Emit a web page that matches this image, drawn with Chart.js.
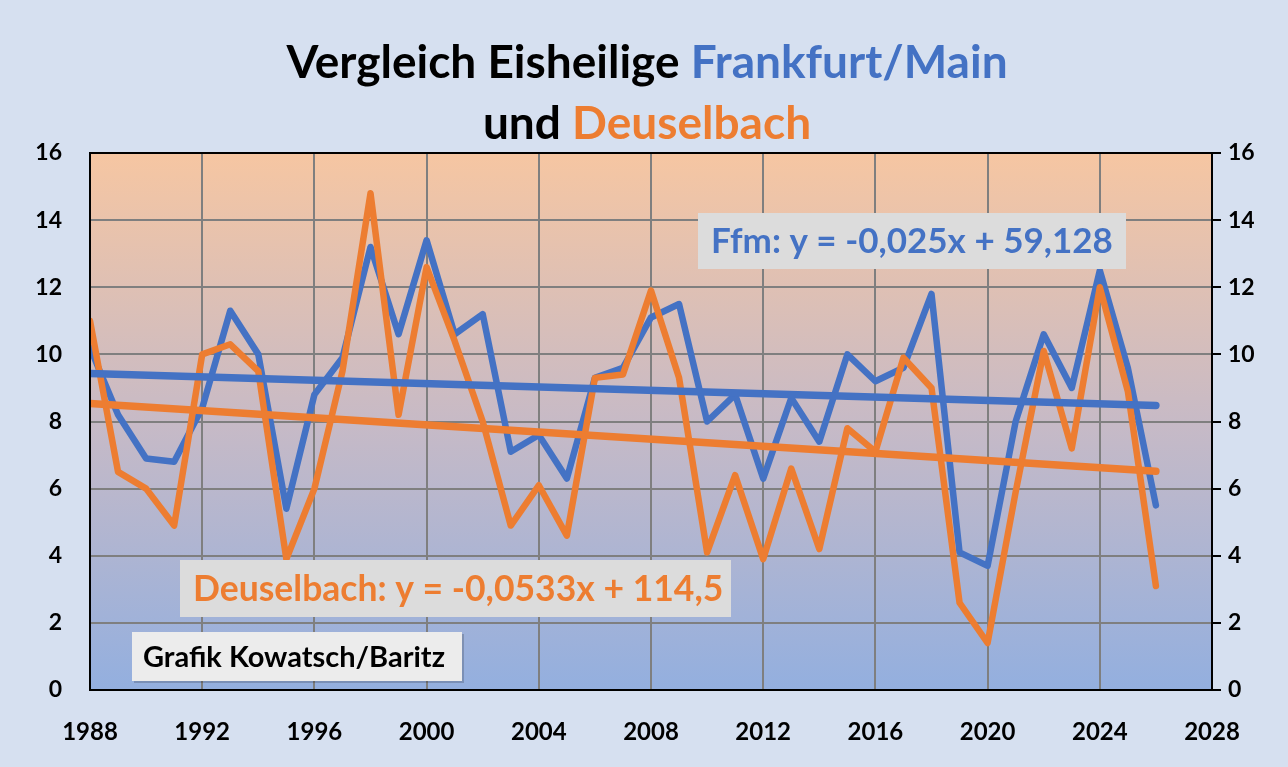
<!DOCTYPE html>
<html>
<head>
<meta charset="utf-8">
<script src="https://cdn.jsdelivr.net/npm/chart.js@4"></script>
<style>
  html, body { margin: 0; padding: 0; background: #d6e0f0; }
  #wrap { width: 1288px; height: 767px; }
</style>
</head>
<body>
<div id="wrap"><canvas id="myChart" width="1288" height="767"></canvas></div>
<script>
const years = [1988, 1989, 1990, 1991, 1992, 1993, 1994, 1995, 1996, 1997,
               1998, 1999, 2000, 2001, 2002, 2003, 2004, 2005, 2006, 2007,
               2008, 2009, 2010, 2011, 2012, 2013, 2014, 2015, 2016, 2017,
               2018, 2019, 2020, 2021, 2022, 2023, 2024, 2025, 2026]
const frankfurt = [10.2, 8.2, 6.9, 6.8, 8.4, 11.3, 10.0, 5.4, 8.8, 9.9,
                   13.2, 10.6, 13.4, 10.6, 11.2, 7.1, 7.6, 6.3, 9.3, 9.6,
                   11.1, 11.5, 8.0, 8.8, 6.3, 8.7, 7.4, 10.0, 9.2, 9.6,
                   11.8, 4.1, 3.7, 8.0, 10.6, 9.0, 12.5, 9.6, 5.5]
const deuselbach = [11.0, 6.5, 6.0, 4.9, 10.0, 10.3, 9.5, 3.9, 6.0, 9.5,
                    14.8, 8.2, 12.6, 10.4, 8.0, 4.9, 6.1, 4.6, 9.3, 9.4,
                    11.9, 9.3, 4.1, 6.4, 3.9, 6.6, 4.2, 7.8, 7.1, 9.9,
                    9.0, 2.6, 1.4, 5.9, 10.1, 7.2, 12.0, 8.9, 3.1]
const trendYears = [1988, 2026]
const frankfurtTrend = [9.43, 8.48]
const deuselbachTrend = [8.54, 6.52]
const xTicks = [1988, 1992, 1996, 2000, 2004, 2008, 2012, 2016, 2020, 2024, 2028]
const yTicks = [0, 2, 4, 6, 8, 10, 12, 14, 16]

const BLUE = '#4472c4'
const ORANGE = '#ed7d31'
const FONT = 'Lato, "Open Sans", sans-serif'

function pts(xs, ys) {
    return xs.map((x, i) => ({ x: x, y: ys[i] }))
}

const decorPlugin = {
    id: 'decor',
    beforeDraw(chart) {
        const ctx = chart.ctx
        const a = chart.chartArea
        ctx.save()
        ctx.fillStyle = '#d6e0f0'
        ctx.fillRect(0, 0, chart.width, chart.height)
        const g = ctx.createLinearGradient(0, a.top, 0, a.bottom)
        g.addColorStop(0, '#f6c6a2')
        g.addColorStop(0.5, '#c7bac6')
        g.addColorStop(1, '#93afdf')
        ctx.fillStyle = g
        ctx.fillRect(a.left, a.top, a.right - a.left, a.bottom - a.top)
        ctx.restore()
    },
    afterDatasetsDraw(chart) {
        const ctx = chart.ctx
        const a = chart.chartArea
        ctx.save()
        // plot border
        ctx.strokeStyle = '#000'
        ctx.lineWidth = 2
        ctx.strokeRect(a.left, a.top, a.right - a.left, a.bottom - a.top)

        // equation boxes
        const box = (x, y, w, h, text, color, size, shadow) => {
            if (shadow) {
                ctx.fillStyle = 'rgba(0,0,0,0.18)'
                ctx.fillRect(x + 2, y + 2, w, h)
            }
            ctx.fillStyle = shadow ? '#ececec' : '#dcdcdc'
            ctx.fillRect(x, y, w, h)
            ctx.fillStyle = color
            ctx.font = 'bold ' + size + 'px ' + FONT
            ctx.textBaseline = 'middle'
            ctx.textAlign = 'left'
            ctx.fillText(text, x + (shadow ? 11 : 13), y + h / 2 + 1)
        }
        box(698, 213, 428, 56, 'Ffm: y = -0,025x + 59,128', BLUE, 35, false)
        box(180, 560, 551, 57, 'Deuselbach: y = -0,0533x + 114,5', ORANGE, 35.5, false)
        box(132, 632, 330, 49, 'Grafik Kowatsch/Baritz', '#000', 29, true)

        // two-colour title
        const line = (parts, cy) => {
            ctx.font = 'bold 46px ' + FONT
            ctx.textBaseline = 'middle'
            ctx.textAlign = 'left'
            let total = 0
            parts.forEach(p => total += ctx.measureText(p[0]).width)
            let x = 647 - total / 2
            parts.forEach(p => {
                ctx.fillStyle = p[1]
                ctx.fillText(p[0], x, cy)
                x += ctx.measureText(p[0]).width
            })
        }
        line([['Vergleich Eisheilige ', '#000'], ['Frankfurt/Main', BLUE]], 63)
        line([['und ', '#000'], ['Deuselbach', ORANGE]], 124)
        ctx.restore()
    }
}

new Chart(document.getElementById('myChart'), {
    type: 'line',
    data: {
        datasets: [
            {
                label: 'Frankfurt/Main',
                data: pts(years, frankfurt),
                borderColor: BLUE,
                borderWidth: 6.5,
                pointRadius: 0,
                borderJoinStyle: 'round',
                borderCapStyle: 'round',
                order: 4
            },
            {
                label: 'Deuselbach',
                data: pts(years, deuselbach),
                borderColor: ORANGE,
                borderWidth: 6.5,
                pointRadius: 0,
                borderJoinStyle: 'round',
                borderCapStyle: 'round',
                order: 3
            },
            {
                label: 'Trend Ffm',
                data: pts(trendYears, frankfurtTrend),
                borderColor: BLUE,
                borderWidth: 7.5,
                pointRadius: 0,
                borderCapStyle: 'round',
                order: 2
            },
            {
                label: 'Trend Deuselbach',
                data: pts(trendYears, deuselbachTrend),
                borderColor: ORANGE,
                borderWidth: 7.5,
                pointRadius: 0,
                borderCapStyle: 'round',
                order: 1
            }
        ]
    },
    options: {
        responsive: false,
        animation: false,
        layout: { padding: { top: 153, left: 0, right: 0, bottom: 0 } },
        plugins: {
            legend: { display: false },
            title: { display: false },
            tooltip: { enabled: false }
        },
        scales: {
            x: {
                type: 'linear',
                min: 1988,
                max: 2028,
                afterBuildTicks: s => { s.ticks = xTicks.map(v => ({ value: v })) },
                afterFit: s => { s.height = 77 },
                grid: { color: '#7f7f7f', lineWidth: 2, drawTicks: false },
                border: { display: false },
                ticks: {
                    padding: 28,
                    color: '#000',
                    font: { family: FONT, size: 24, weight: 'bold' },
                    callback: v => String(v)
                }
            },
            y: {
                position: 'left',
                min: 0,
                max: 16,
                afterBuildTicks: s => { s.ticks = yTicks.map(v => ({ value: v })) },
                afterFit: s => { s.width = 90 },
                grid: { color: '#7f7f7f', lineWidth: 2, drawTicks: false },
                border: { display: false },
                ticks: {
                    padding: 28,
                    color: '#000',
                    font: { family: FONT, size: 23, weight: 'bold' }
                }
            },
            y2: {
                position: 'right',
                min: 0,
                max: 16,
                afterBuildTicks: s => { s.ticks = yTicks.map(v => ({ value: v })) },
                afterFit: s => { s.width = 76 },
                grid: { drawOnChartArea: false, drawTicks: true, tickLength: 9, tickColor: '#000', lineWidth: 2 },
                border: { display: false },
                ticks: {
                    padding: 7,
                    color: '#000',
                    font: { family: FONT, size: 23, weight: 'bold' }
                }
            }
        }
    },
    plugins: [decorPlugin]
})
</script>
</body>
</html>
